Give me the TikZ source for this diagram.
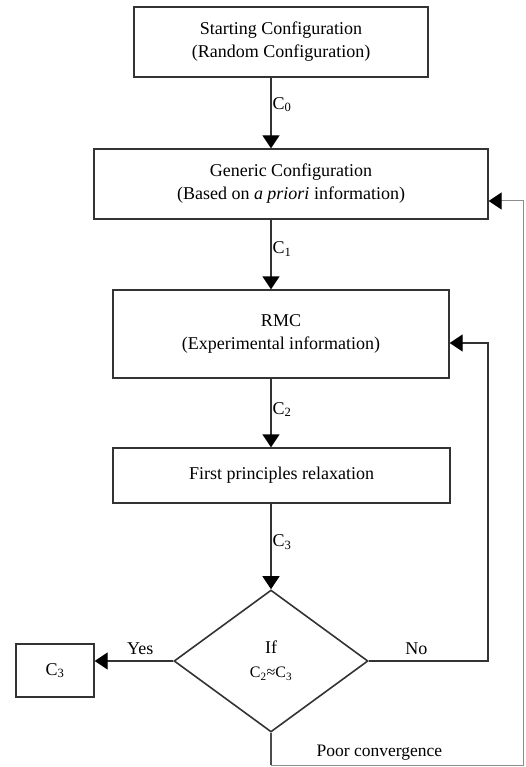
\documentclass[tikz,border=0pt]{standalone}
\usepackage{fontspec}
\setmainfont{Liberation Serif}
\usetikzlibrary{arrows.meta,shapes.geometric}

\tikzset{
    box/.style={draw=black!80, line width=1.3pt, align=center, inner sep=0pt, font=\fontsize{18}{23}\selectfont},
    flow/.style={draw=black!80, line width=1.3pt, -{Triangle[length=13pt,width=17pt,color=black]}},
    link/.style={draw=black!80, line width=1.3pt},
    lab/.style={anchor=west, inner sep=1pt, font=\fontsize{18}{20}\selectfont}
}

\begin{document}
\begin{tikzpicture}[x=1pt,y=-1pt]
    \useasboundingbox (0,0) rectangle (526,767);
    % boxes
    \node[box, minimum width=294pt, minimum height=70pt] (start) at (281,42)
        {Starting Configuration\\(Random Configuration)};
    \node[box, minimum width=394pt, minimum height=70pt] (generic) at (291,184)
        {Generic Configuration\\(Based on \textit{a priori} information)};
    \node[box, minimum width=336pt, minimum height=88pt] (rmc) at (281,334)
        {RMC\\(Experimental information)};
    \node[box, minimum width=337pt, minimum height=55pt] (relax) at (281.5,475.5)
        {First principles relaxation};
    \node[box, shape=diamond, line width=1.6pt, minimum width=194pt, minimum height=142pt] (ifdec) at (271,661)
        {If\\[1pt]{\fontsize{16}{18}\selectfont C\textsubscript{2}≈C\textsubscript{3}}};
    \node[box, minimum width=78pt, minimum height=53pt] (result) at (55,670.5)
        {C\textsubscript{3}};
    % main flow
    \draw[flow] (start.south -| ifdec.north) -- node[lab, pos=0.38] {C\textsubscript{0}} (generic.north -| ifdec.north);
    \draw[flow] (generic.south -| ifdec.north) -- node[lab, pos=0.42] {C\textsubscript{1}} (rmc.north -| ifdec.north);
    \draw[flow] (rmc.south -| ifdec.north) -- node[lab, pos=0.45] {C\textsubscript{2}} (relax.north -| ifdec.north);
    \draw[flow] (relax.south -| ifdec.north) -- node[lab, pos=0.45] {C\textsubscript{3}} (ifdec.north);
    % decision
    \draw[flow] (ifdec.west) -- node[above=2pt, pos=0.42, font=\fontsize{18}{20}\selectfont] {Yes} (ifdec.west -| result.east);
    \coordinate (noturn) at (488,661);
    \draw[flow] (ifdec.east) -- node[above=2pt, pos=0.4, font=\fontsize{18}{20}\selectfont] {No} (noturn)
        |- ([yshift=-9pt]rmc.east);
    \coordinate (poorl) at (271,765);
    \coordinate (poorr) at (523,765);
    \draw[link, draw=black!70] (ifdec.south) -- (poorl);
    \draw[flow, draw=black!45, line width=1pt] (poorl) -- node[above=1pt, pos=0.43, text=black, font=\fontsize{17.5}{19}\selectfont] {Poor convergence} (poorr)
        |- ([yshift=-17pt]generic.east);
\end{tikzpicture}
\end{document}
